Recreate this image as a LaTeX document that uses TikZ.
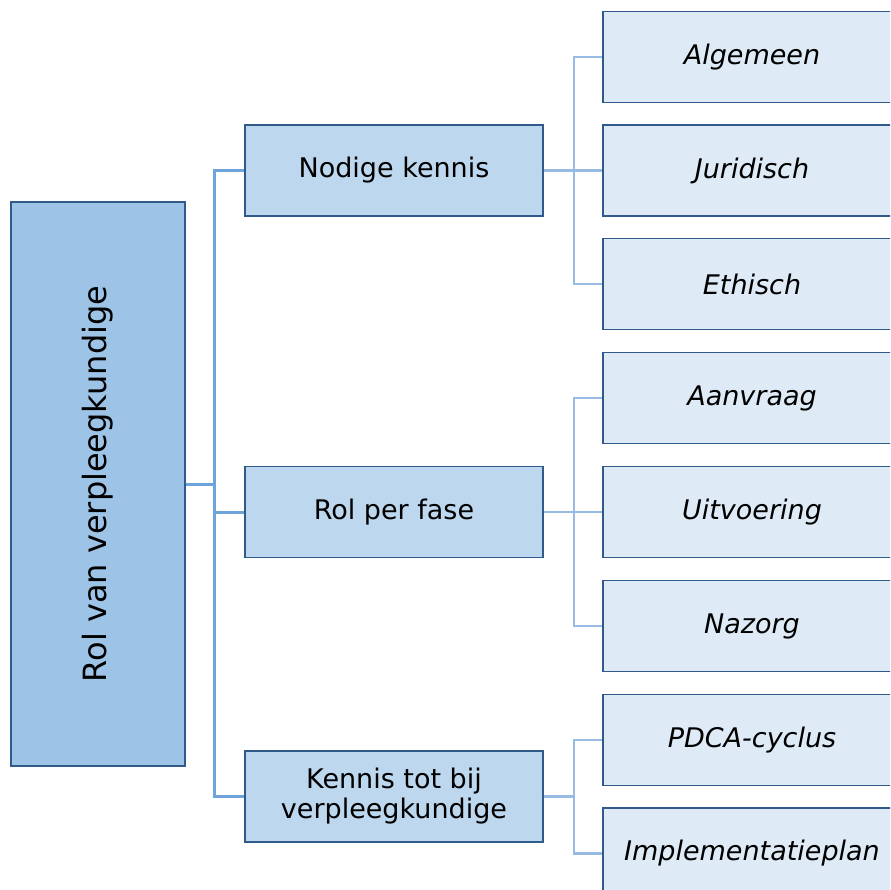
\documentclass[tikz,border=0pt]{standalone}
\usepackage{fontspec}
\setmainfont{DejaVu Sans}
\usetikzlibrary{positioning}

\definecolor{rootfill}{HTML}{9DC3E6}
\definecolor{midfill}{HTML}{BDD7EE}
\definecolor{leaffill}{HTML}{DEEBF7}
\definecolor{boxline}{HTML}{2F5A8A}
\definecolor{linkdark}{HTML}{6FA3DC}
\definecolor{linklight}{HTML}{97BBE5}

\tikzset{
  box/.style={draw=boxline, line width=1.8pt, minimum width=298pt, minimum height=91pt,
    align=center, inner sep=0pt},
  rootbox/.style={box, fill=rootfill, rotate=90, minimum width=564pt, minimum height=174pt,
    font=\fontsize{32}{38}\selectfont},
  midbox/.style={box, fill=midfill, font=\fontsize{27}{30}\selectfont},
  leafbox/.style={box, fill=leaffill, font=\itshape\fontsize{27}{30}\selectfont},
  rootlink/.style={draw=linkdark, line width=3pt},
  leaflink/.style={draw=linklight, line width=2.5pt}
}

\begin{document}
\begin{tikzpicture}[x=1pt, y=-1pt]
\useasboundingbox (0,0) rectangle (890,890);
\clip (0,0) rectangle (890,890);

% main box on the left
\node[rootbox] (rol) at (98,484) {Rol van verpleegkundige};

% second level
\node[midbox] (nodig) at (394,170.5) {Nodige kennis};
\node[midbox] (fase) at (394,512) {Rol per fase};
\node[midbox] (tot) at (394,796.5) {Kennis tot bij\\verpleegkundige};

% third level
\foreach \name/\y/\txt in {alg/57/Algemeen, jur/170.5/Juridisch, eth/284/Ethisch,
    aanv/398/Aanvraag, uitv/512/Uitvoering, naz/626/Nazorg,
    pdca/740/PDCA-cyclus, impl/853.5/Implementatieplan}
  \node[leafbox] (\name) at (752,\y) {\txt};

% links from the main box
\foreach \m in {nodig,fase,tot}
  \draw[rootlink] (rol.south) -- ++(29,0) |- (\m.west);

% links to the third level
\foreach \m/\l in {nodig/alg, nodig/jur, nodig/eth, fase/aanv, fase/uitv, fase/naz,
    tot/pdca, tot/impl}
  \draw[leaflink] (\m.east) -- ++(30,0) |- (\l.west);

\end{tikzpicture}
\end{document}
